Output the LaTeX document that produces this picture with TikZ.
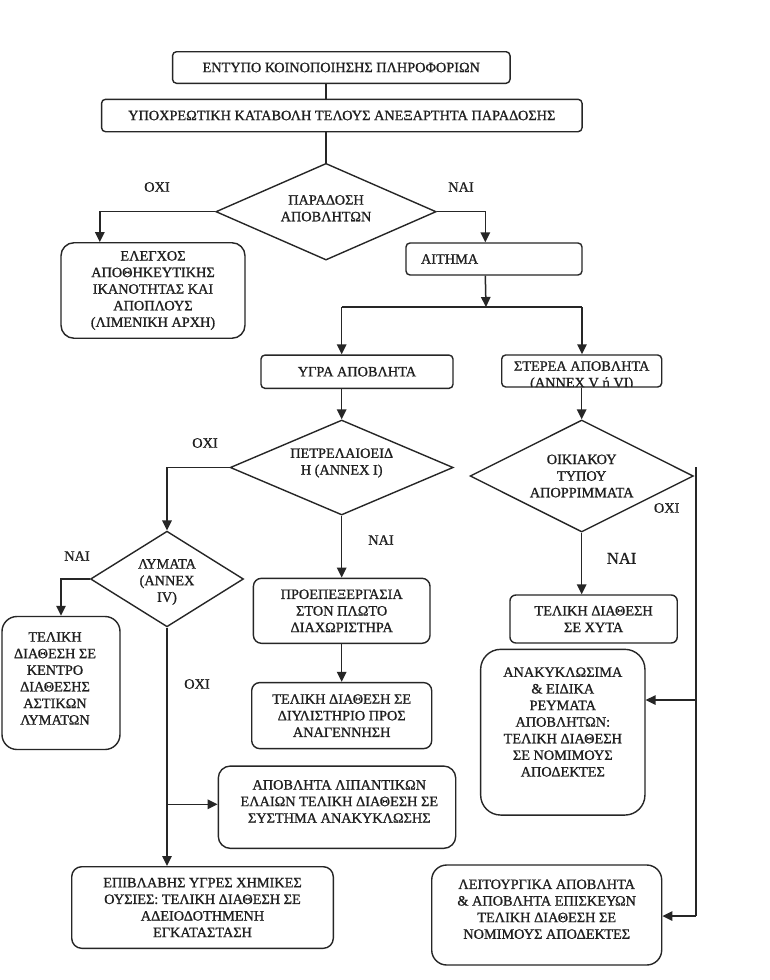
\documentclass[tikz,border=0pt]{standalone}
\usepackage{fontspec}
\setmainfont{Liberation Serif}[FakeBold=1]
\usetikzlibrary{arrows.meta,shapes.geometric,calc}
\begin{document}
\begin{tikzpicture}[x=1pt,y=-1pt,
  font=\fontsize{14.3}{16.6}\selectfont,
  every node/.style={text=black!88},
  bx/.style={draw=black!85, line width=1.4pt, rounded corners=#1, inner sep=0pt, align=center},
  bx/.default=4pt,
  dm/.style={draw=black!85, line width=1.4pt, diamond, inner sep=0pt, align=center},
  lbl/.style={inner sep=0pt, align=center},
  conn/.style={draw=black!85, line width=1.5pt},
  arr/.style={conn, -{Triangle[length=10pt,width=9.5pt]}},
]
\fill[white] (0,0) rectangle (769,980);
\useasboundingbox (0,0) rectangle (769,980);

% boxes
\node[bx, minimum width=337.5pt, minimum height=31.6pt] (b1) at (341.3,67.5) {ΕΝΤΥΠΟ ΚΟΙΝΟΠΟΙΗΣΗΣ ΠΛΗΡΟΦΟΡΙΩΝ};
\node[bx, minimum width=480.5pt, minimum height=32.4pt] (b2) at (341.8,115.5) {ΥΠΟΧΡΕΩΤΙΚΗ ΚΑΤΑΒΟΛΗ ΤΕΛΟΥΣ ΑΝΕΞΑΡΤΗΤΑ ΠΑΡΑΔΟΣΗΣ};
\node[dm, minimum width=220.3pt, minimum height=96.7pt, shape aspect=2.28,
  label={[lbl,yshift=3.4pt]center:{ΠΑΡΑΔΟΣΗ\\ΑΠΟΒΛΗΤΩΝ}}] (d1) at (326,211.7) {};
\node[bx=13pt, minimum width=184pt, minimum height=95.5pt] (el) at (153,290.5) {ΕΛΕΓΧΟΣ\\ΑΠΟΘΗΚΕΥΤΙΚΗΣ\\ΙΚΑΝΟΤΗΤΑΣ ΚΑΙ\\ΑΠΟΠΛΟΥΣ\\(ΛΙΜΕΝΙΚΗ ΑΡΧΗ)};
\node[bx, minimum width=176pt, minimum height=32pt, text width=146pt, align=left] (ait) at (494,259) {ΑΙΤΗΜΑ};
\node[bx, minimum width=192pt, minimum height=33.3pt] (ygra) at (357,371.7) {ΥΓΡΑ ΑΠΟΒΛΗΤΑ};
\node[bx, minimum width=160pt, minimum height=32pt,
  path picture={\node[lbl, draw=none, fill=none, rounded corners=0pt] at ([yshift=-4.8pt]path picture bounding box.center) {ΣΤΕΡΕΑ ΑΠΟΒΛΗΤΑ\\(ΑΝΝΕΧ V ή VI)};}] (ster) at (581.7,371) {};
\node[dm, minimum width=223pt, minimum height=95pt, shape aspect=2.35,
  label={[lbl,yshift=4.5pt]center:{ΠΕΤΡΕΛΑΙΟΕΙΔ\\Η (ΑΝΝΕΧ Ι)}}] (d2) at (341.7,467.5) {};
\node[dm, minimum width=223.3pt, minimum height=112pt, shape aspect=2] (d4) at (581.7,476) {ΟΙΚΙΑΚΟΥ\\ΤΥΠΟΥ\\ΑΠΟΡΡΙΜΜΑΤΑ};
\node[dm, minimum width=153pt, minimum height=95.7pt, shape aspect=1.6,
  label={[lbl,yshift=-3pt]center:{ΛΥΜΑΤΑ\\(ΑΝΝΕΧ\\IV)}}] (d3) at (167,579) {};
\node[bx=15pt, minimum width=118pt, minimum height=133pt,
  label={[lbl,xshift=-6pt,yshift=4.6pt]center:{ΤΕΛΙΚΗ\\ΔΙΑΘΕΣΗ ΣΕ\\ΚΕΝΤΡΟ\\ΔΙΑΘΕΣΗΣ\\ΑΣΤΙΚΩΝ\\ΛΥΜΑΤΩΝ}}] (tel) at (61,683) {};
\node[bx=8pt, minimum width=176.6pt, minimum height=65pt] (pro) at (341.7,610.8) {ΠΡΟΕΠΕΞΕΡΓΑΣΙΑ\\ΣΤΟΝ ΠΛΩΤΟ\\ΔΙΑΧΩΡΙΣΤΗΡΑ};
\node[bx=8pt, minimum width=180pt, minimum height=66pt] (diy) at (341.7,715.6) {ΤΕΛΙΚΗ ΔΙΑΘΕΣΗ ΣΕ\\ΔΙΥΛΙΣΤΗΡΙΟ ΠΡΟΣ\\ΑΝΑΓΕΝΝΗΣΗ};
\node[bx=12pt, minimum width=237.4pt, minimum height=82.3pt,
  label={[lbl,xshift=2.3pt,yshift=5.8pt]center:{ΑΠΟΒΛΗΤΑ ΛΙΠΑΝΤΙΚΩΝ\\ΕΛΑΙΩΝ ΤΕΛΙΚΗ ΔΙΑΘΕΣΗ ΣΕ\\ΣΥΣΤΗΜΑ ΑΝΑΚΥΚΛΩΣΗΣ}}] (lip) at (337,807.2) {};
\node[bx=10pt, minimum width=261.6pt, minimum height=81.6pt] (epi) at (202.5,907.5) {ΕΠΙΒΛΑΒΗΣ ΥΓΡΕΣ ΧΗΜΙΚΕΣ\\ΟΥΣΙΕΣ: ΤΕΛΙΚΗ ΔΙΑΘΕΣΗ ΣΕ\\ΑΔΕΙΟΔΟΤΗΜΕΝΗ\\ΕΓΚΑΤΑΣΤΑΣΗ};
\node[bx=6pt, minimum width=167.3pt, minimum height=48pt] (xyta) at (593.6,619) {ΤΕΛΙΚΗ ΔΙΑΘΕΣΗ\\ΣΕ ΧΥΤΑ};
\node[bx=20pt, minimum width=164.3pt, minimum height=165.7pt,
  label={[lbl,yshift=10.2pt]center:{ΑΝΑΚΥΚΛΩΣΙΜΑ\\\&{} ΕΙΔΙΚΑ\\ΡΕΥΜΑΤΑ\\ΑΠΟΒΛΗΤΩΝ:\\ΤΕΛΙΚΗ ΔΙΑΘΕΣΗ\\ΣΕ ΝΟΜΙΜΟΥΣ\\ΑΠΟΔΕΚΤΕΣ}}] (anak) at (562.8,732.2) {};
\node[bx=15pt, minimum width=230pt, minimum height=100pt,
  label={[lbl,yshift=5.8pt]center:{ΛΕΙΤΟΥΡΓΙΚΑ ΑΠΟΒΛΗΤΑ\\\&{} ΑΠΟΒΛΗΤΑ ΕΠΙΣΚΕΥΩΝ\\ΤΕΛΙΚΗ ΔΙΑΘΕΣΗ ΣΕ\\ΝΟΜΙΜΟΥΣ ΑΠΟΔΕΚΤΕΣ}}] (lei) at (546.7,915) {};

% branch labels
\node[lbl] (o1) at (157,187) {ΟΧΙ};
\node[lbl] (n1) at (461,187) {ΝΑΙ};
\node[lbl] (o2) at (205,443) {ΟΧΙ};
\node[lbl] (n2) at (381,540) {ΝΑΙ};
\node[lbl] (n3) at (77,556) {ΝΑΙ};
\node[lbl] (o3) at (197,684) {ΟΧΙ};
\node[lbl] (o4) at (666.7,508) {ΟΧΙ};
\node[lbl, font=\fontsize{16.5}{19}\selectfont] (n4) at (621.6,558.3) {ΝΑΙ};

% coordinates for junctions
\coordinate (jn) at (486,307);
\coordinate (jl) at (341.7,307);
\coordinate (jr) at (582,307);
\coordinate (jb) at (d3.south |- 0,804.3);
\coordinate (rtop) at ($(d4.east)+(1.7,-9)$);
\coordinate (rmid) at (rtop |- 0,700);
\coordinate (rbot) at (rtop |- 0,916);

% connectors
\draw[conn] (b1.south -| d1.north) -- (b2.north -| d1.north);
\draw[conn] (b2.south -| d1.north) -- (d1.north);
\draw[arr] (d1.west) -| ($(el.north west)+(39.5,0)$);
\draw[arr] (d1.east) -| ($(ait.north west)+(80,0)$);
\draw[arr] ($(ait.south west)+(80,0)$) -- (jn);
\draw[conn] (jl) -- (jr);
\draw[arr] (jl) -- (jl |- ygra.north);
\draw[arr] (jr) -- (jr |- ster.north);
\draw[arr] (ygra.south -| d2.north) -- (d2.north);
\draw[arr] (ster.south -| d4.north) -- (d4.north);
\draw[arr] (d2.west) -| (d3.north);
\draw[arr] (d2.south) -- (pro.north);
\draw[arr] (pro.south) -- (diy.north);
\draw[arr] (d3.west) -| (tel.north);
\draw[arr] (d3.south) -- (d3.south |- epi.north);
\draw[arr] (jb) -- (jb -| lip.west);
\draw[arr] (d4.south) -- (d4.south |- xyta.north);
\draw[conn] (rtop) -- (rbot);
\draw[arr] (rmid) -- (rmid -| anak.east);
\draw[arr] (rbot) -- (rbot -| lei.east);
\end{tikzpicture}
\end{document}
